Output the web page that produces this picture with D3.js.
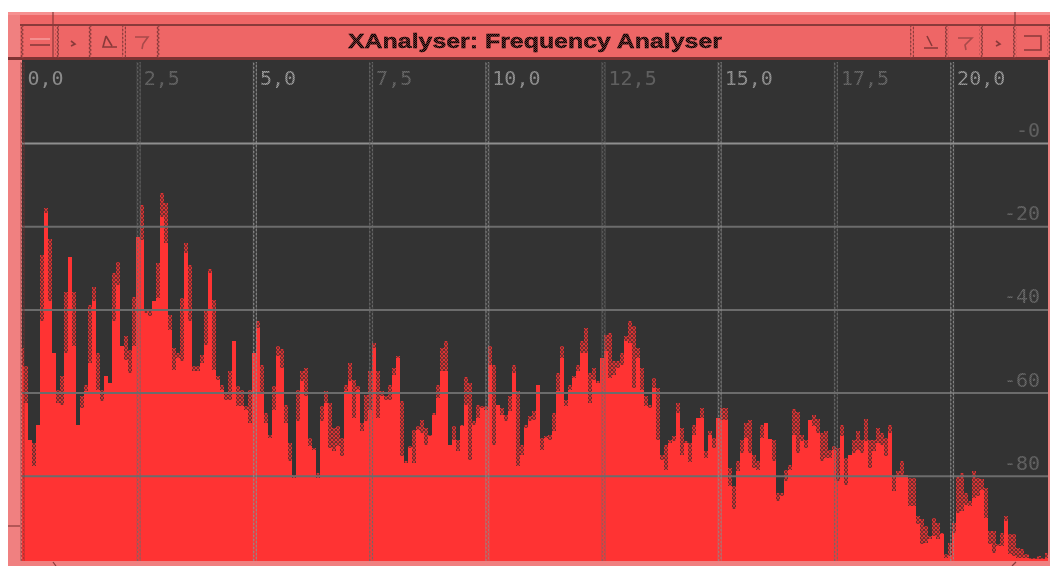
<!DOCTYPE html>
<html>
<head>
<meta charset="utf-8">
<script src="https://cdn.jsdelivr.net/npm/d3@7/dist/d3.min.js"></script>
<style>
  html, body { margin: 0; padding: 0; background: #fff; overflow: hidden; }
  svg { display: block; filter: blur(0.35px); }
  .axis .domain { display: none; }
  .axis text { font-family: 'DejaVu Sans Mono', monospace; font-size: 20px; user-select: none; }
</style>
</head>
<body>
<div id="chart"></div>
<script>
const titleText = 'XAnalyser: Frequency Analyser'
const xTicks = [0, 2.5, 5, 7.5, 10, 12.5, 15, 17.5, 20]
const yTicks = [0, -20, -40, -60, -80]
const binKhz = 0.0861

// top of the hatched part of each fft bin, dB
const peakDb = [
  -49.3, -53.7, -71.3, -72.1, -67.7, -26.9, -15.7, -23.1, -50.5, -59.3, -56.1, -35.9, -27.3, -35.7, -67.9, -60.9,
  -58.1, -38.9, -34.5, -50.5, -59.3, -56.1, -57.7, -31.3, -28.5, -48.9, -46.5, -49.7, -36.9, -22.5, -14.9, -40.1,
  -40.5, -38.1, -28.9, -12.1, -14.5, -41.3, -49.3, -50.5, -37.3, -24.1, -29.3, -53.7, -53.7, -50.9, -40.5, -30.3,
  -37.7, -56.1, -58.1, -60.1, -54.9, -47.7, -58.5, -59.3, -63.3, -59.3, -50.5, -42.9, -53.3, -64.9, -70.1, -58.5,
  -48.9, -49.5, -62.9, -72.1, -79.7, -59.3, -54.9, -54.1, -70.9, -73.3, -79.3, -63.3, -59.7, -62.5, -68.5, -68.1,
  -70.9, -58.1, -52.9, -56.9, -58.5, -67.3, -60.5, -54.9, -48.1, -54.9, -59.7, -60.9, -58.1, -54.1, -51.3, -62.1,
  -76.5, -72.9, -68.9, -68.1, -66.5, -68.5, -70.1, -64.9, -58.1, -49.3, -47.7, -72.7, -68.1, -71.3, -67.7, -56.3,
  -57.7, -66.9, -62.9, -63.3, -63.3, -48.9, -53.3, -62.9, -63.7, -65.3, -60.9, -53.3, -59.7, -72.5, -67.7, -65.7,
  -64.5, -58.1, -70.9, -70.5, -70.1, -64.9, -55.3, -48.9, -61.7, -58.1, -56.1, -53.3, -47.7, -44.5, -55.3, -54.1,
  -57.3, -51.7, -46.1, -45.7, -52.5, -52.5, -50.5, -46.5, -42.7, -44.1, -49.3, -54.1, -60.9, -62.9, -56.5, -58.9,
  -74.9, -72.5, -71.3, -70.5, -62.5, -68.5, -71.7, -72.1, -67.7, -66.1, -63.7, -74.1, -69.3, -70.9, -66.1, -63.7,
  -63.7, -78.1, -82.5, -76.5, -71.3, -67.3, -66.5, -74.9, -76.5, -67.7, -67.3, -71.1, -71.3, -84.1, -84.1, -78.5,
  -77.5, -63.9, -64.7, -70.1, -71.3, -66.7, -65.3, -66.3, -69.7, -69.3, -73.7, -72.9, -73.3, -67.7, -75.7, -74.9,
  -71.3, -69.3, -71.3, -66.3, -71.3, -71.3, -68.5, -69.7, -70.9, -67.7, -79.9, -78.9, -76.5, -79.9, -80.5, -80.5,
  -89.7, -90.5, -92.1, -94.5, -90.1, -91.3, -93.7, -98.9, -96.1, -91.3, -80.1, -79.3, -84.1, -86.1, -78.9, -80.5,
  -80.7, -82.9, -93.3, -93.3, -96.5, -93.7, -89.7, -94.1, -94.1, -97.3, -97.7, -98.9, -99.7, -99.7, -99.3, -99.7,
  -98.5,
]

// top of the solid part of each fft bin, dB
const bodyDb = [
  -53.7, -62.5, -71.3, -77.7, -67.7, -42.9, -16.9, -38.1, -50.5, -62.5, -63.1, -50.5, -27.3, -48.9, -67.9, -63.7,
  -59.7, -52.9, -38.1, -59.3, -62.1, -56.1, -57.7, -42.9, -34.1, -48.9, -52.1, -55.3, -48.9, -22.5, -23.3, -40.9,
  -41.5, -38.1, -37.3, -17.7, -24.1, -44.9, -54.5, -51.7, -52.5, -26.5, -42.9, -54.9, -54.9, -52.9, -48.5, -31.3,
  -54.5, -56.9, -59.3, -61.7, -61.7, -47.7, -63.3, -63.3, -64.1, -67.3, -50.5, -44.5, -60.1, -67.3, -70.9, -64.1,
  -51.3, -54.1, -67.3, -76.5, -80.5, -66.9, -57.3, -60.9, -72.9, -73.7, -80.5, -66.9, -62.5, -73.3, -74.1, -72.9,
  -75.3, -59.7, -57.3, -66.1, -59.3, -69.3, -66.9, -64.1, -49.3, -66.1, -60.9, -61.7, -61.7, -55.7, -51.7, -75.3,
  -76.9, -73.3, -76.9, -68.9, -69.7, -72.5, -70.5, -65.3, -61.3, -54.9, -54.9, -72.7, -71.3, -74.1, -68.1, -62.9,
  -76.1, -67.9, -66.1, -63.7, -64.1, -53.3, -72.5, -62.9, -65.3, -66.9, -64.5, -55.3, -77.7, -74.9, -68.5, -66.9,
  -66.5, -58.1, -73.7, -70.9, -71.3, -69.3, -59.7, -51.7, -63.3, -59.3, -56.5, -54.9, -50.5, -50.5, -62.5, -56.9,
  -57.7, -51.7, -50.1, -56.5, -55.7, -54.1, -53.3, -47.7, -48.1, -58.9, -51.7, -59.3, -63.3, -63.7, -58.9, -71.3,
  -76.1, -78.5, -72.1, -71.7, -64.9, -74.9, -72.1, -76.7, -70.1, -66.1, -66.1, -75.7, -70.1, -73.3, -66.1, -66.5,
  -66.5, -82.5, -88.1, -78.9, -74.5, -70.9, -74.5, -78.1, -78.5, -70.9, -67.3, -71.1, -76.5, -86.1, -84.9, -81.3,
  -78.5, -70.1, -74.5, -71.7, -73.3, -66.7, -68.1, -69.7, -76.5, -75.7, -75.7, -73.7, -81.3, -70.5, -82.1, -74.9,
  -74.5, -73.7, -74.5, -71.7, -78.1, -74.1, -72.1, -72.5, -75.3, -69.7, -83.7, -79.7, -79.7, -79.9, -87.3, -87.3,
  -91.7, -96.5, -96.1, -95.3, -94.5, -95.3, -94.1, -99.7, -99.3, -93.7, -88.9, -88.5, -86.9, -87.3, -85.3, -84.9,
  -83.3, -90.1, -96.5, -98.5, -96.9, -96.9, -90.9, -98.9, -99.3, -99.7, -99.7, -99.7, -99.9, -99.9, -99.9, -99.9,
  -99.7,
]

const width = 1050
const height = 566
const plot = { left: 22, right: 1048, top: 62, bottom: 561 }

const x = d3.scaleLinear().domain([0, 22.05]).range([22, 1046.9])
const y = d3.scaleLinear().domain([0, -100]).range([143, 559])

const svg = d3
  .select('#chart')
  .append('svg')
  .attr('width', width)
  .attr('height', height)
  .attr('viewBox', `0 0 ${width} ${height}`)

const defs = svg.append('defs')
defs.append('clipPath').attr('id', 'plot-clip').append('rect')
  .attr('x', plot.left)
  .attr('y', plot.top)
  .attr('width', plot.right - plot.left)
  .attr('height', plot.bottom - plot.top)

// the scaled-up xlib look: a lattice where the bar edges were resampled
const hatch = defs.append('pattern')
  .attr('id', 'hatch')
  .attr('patternUnits', 'userSpaceOnUse')
  .attr('width', 4)
  .attr('height', 4)
hatch.append('rect').attr('width', 4).attr('height', 4).attr('fill', '#3d2c2c')
hatch.append('path')
  .attr('d', 'M0 0L2 2L4 0M0 4L2 2L4 4')
  .attr('fill', 'none')
  .attr('stroke', '#e03434')
  .attr('stroke-width', 1.2)

const zigzag = (id, color) => {
  const p = defs.append('pattern')
    .attr('id', id)
    .attr('patternUnits', 'userSpaceOnUse')
    .attr('width', 4)
    .attr('height', 4)
  p.append('path')
    .attr('d', 'M1 0L3 2L1 4')
    .attr('fill', 'none')
    .attr('stroke', color)
    .attr('stroke-width', 1.2)
}
zigzag('zig-bright', '#8c8c8c')
zigzag('zig-dim', '#6a6a6a')
zigzag('zig-dark', '#7a3030')
zigzag('zig-bevel', '#8e3d3d')

const dots = (id, color) => {
  const p = defs.append('pattern')
    .attr('id', id)
    .attr('patternUnits', 'userSpaceOnUse')
    .attr('width', 2)
    .attr('height', 2)
  p.append('rect').attr('width', 2).attr('height', 2).attr('fill', color).attr('opacity', 0.5)
  p.append('rect').attr('width', 1).attr('height', 1).attr('fill', color)
  p.append('rect').attr('x', 1).attr('y', 1).attr('width', 1).attr('height', 1).attr('fill', color)
}
dots('dots-bright', '#a8a8a8')
dots('dots-dim', '#6e6e6e')
dots('dots-title', '#000')

// window frame
const frame = svg.append('g')
frame.append('rect').attr('x', 8).attr('y', 12).attr('width', 1042).attr('height', 554).attr('fill', '#f08080')
frame.append('rect').attr('x', 8).attr('y', 12).attr('width', 1042).attr('height', 3).attr('fill', '#f69090')
frame.append('rect').attr('x', 20).attr('y', 15).attr('width', 1030).attr('height', 9).attr('fill', '#ee6666')
frame.append('rect').attr('x', 20).attr('y', 24).attr('width', 1030).attr('height', 2).attr('fill', '#8a3a3a')
frame.append('rect').attr('x', 20).attr('y', 26).attr('width', 1030).attr('height', 31).attr('fill', '#ee6666')
frame.append('rect').attr('x', 8).attr('y', 57).attr('width', 1042).attr('height', 3).attr('fill', '#7d3333')

// stray border ticks of the window manager
const strayLines = [
  [53, 12, 53, 57],
  [1015, 12, 1015, 25],
  [8, 526, 20, 526],
  [53, 562, 56, 566],
  [1016, 562, 1012, 566],
]
frame.selectAll('line.stray')
  .data(strayLines)
  .enter()
  .append('line')
  .attr('x1', (d) => d[0])
  .attr('y1', (d) => d[1])
  .attr('x2', (d) => d[2])
  .attr('y2', (d) => d[3])
  .attr('stroke', '#8a3a3a')
  .attr('stroke-width', 1.2)

// title bar button dividers
const dividers = [20, 55, 88, 122, 156, 910, 945, 979, 1013, 1047]
frame.selectAll('rect.divider')
  .data(dividers)
  .enter()
  .append('rect')
  .attr('x', (d) => d)
  .attr('y', 26)
  .attr('width', 4)
  .attr('height', 32)
  .attr('fill', 'url(#zig-bevel)')

// button glyphs
const glyphs = [
  ['M30 39H50', '#f59a9a'],
  ['M30 45H50', '#8a3a3a'],
  ['M71 41L75 44L71 46', '#8a3a3a'],
  ['M106 36L103 47H117M106 36L112 46', '#8a3a3a'],
  ['M135 37H148L143 44L142 49', '#a84a4a'],
  ['M927 36L932 46M924 48H938', '#8a3a3a'],
  ['M958 38H972L965 45L966 50', '#a84a4a'],
  ['M996 41L1000 44L996 46', '#8a3a3a'],
  ['M1024 36H1041V50H1024', '#8a3a3a'],
]
frame.selectAll('path.glyph')
  .data(glyphs)
  .enter()
  .append('path')
  .attr('d', (d) => d[0])
  .attr('fill', 'none')
  .attr('stroke', (d) => d[1])
  .attr('stroke-width', 1.6)

frame.append('text')
  .attr('x', 348)
  .attr('y', 48)
  .attr('textLength', 374)
  .attr('lengthAdjust', 'spacingAndGlyphs')
  .attr('font-family', "'Liberation Sans', sans-serif")
  .attr('font-weight', 700)
  .attr('font-size', 21)
  .attr('fill', 'url(#dots-title)')
  .attr('stroke', '#000')
  .attr('stroke-width', 0.3)
  .text(titleText)

// plot background
svg.append('rect')
  .attr('x', plot.left)
  .attr('y', plot.top - 2)
  .attr('width', plot.right - plot.left)
  .attr('height', plot.bottom - plot.top + 2)
  .attr('fill', '#333333')

const bars = svg.append('g').attr('clip-path', 'url(#plot-clip)')
const bins = d3.range(peakDb.length)

// resampled part on top of each bin
bars.append('g')
  .selectAll('rect')
  .data(bins)
  .enter()
  .append('rect')
  .attr('x', (i) => x(i * binKhz) - 2)
  .attr('y', (i) => y(peakDb[i]))
  .attr('width', x(binKhz) - x(0))
  .attr('height', (i) => y(bodyDb[i]) - y(peakDb[i]))
  .attr('fill', 'url(#hatch)')
  .attr('shape-rendering', 'crispEdges')

// solid part as one stepped area so the bins have no seams
const bodyArea = d3.area()
  .curve(d3.curveStepAfter)
  .x((i) => x(i * binKhz) - 2)
  .y0(plot.bottom)
  .y1((i) => y(bodyDb[i]))

bars.append('path')
  .datum(bins.concat([bins.length - 1]))
  .attr('d', (d) => bodyArea(d) + `M${x((bins.length - 1) * binKhz) - 2} ${y(bodyDb[bins.length - 1])}H${plot.right}V${plot.bottom}H${x((bins.length - 1) * binKhz) - 2}Z`)
  .attr('fill', '#ff3333')
  .attr('shape-rendering', 'crispEdges')

// grid, horizontal lines come from the y axis
const yAxis = d3.axisRight(y)
  .tickValues(yTicks)
  .tickSize(plot.right - plot.left)
  .tickFormat((d) => (d === 0 ? '-0' : String(d)))

const yAxisG = svg.append('g')
  .attr('class', 'axis axis-y')
  .attr('transform', `translate(${plot.left}, 0)`)
  .call(yAxis)
yAxisG.selectAll('line')
  .attr('stroke', (d) => (d === 0 ? '#8f8f8f' : '#6c6c6c'))
  .attr('stroke-width', 2)
yAxisG.selectAll('text')
  .attr('text-anchor', 'end')
  .attr('x', 1040 - plot.left)
  .attr('y', -13)
  .attr('dy', '0.32em')
  .attr('fill', 'url(#dots-dim)')

const xAxis = d3.axisBottom(x)
  .tickValues(xTicks)
  .tickSize(plot.bottom - plot.top)
  .tickFormat((d) => d3.format('.1f')(d).replace('.', ','))

const xAxisG = svg.append('g')
  .attr('class', 'axis axis-x')
  .attr('transform', `translate(0, ${plot.top})`)
  .call(xAxis)
xAxisG.selectAll('line').remove()
xAxisG.selectAll('.tick')
  .insert('rect', 'text')
  .attr('x', -2)
  .attr('y', 0)
  .attr('width', 4)
  .attr('height', plot.bottom - plot.top)
  .attr('fill', (d) => (d === 0 ? 'url(#zig-dark)' : xTicks.indexOf(d) % 2 ? 'url(#zig-dim)' : 'url(#zig-bright)'))
xAxisG.selectAll('text')
  .attr('text-anchor', 'start')
  .attr('x', 5)
  .attr('y', 17)
  .attr('dy', '0.32em')
  .attr('fill', (d) => (xTicks.indexOf(d) % 2 ? 'url(#dots-dim)' : 'url(#dots-bright)'))
</script>
</body>
</html>
